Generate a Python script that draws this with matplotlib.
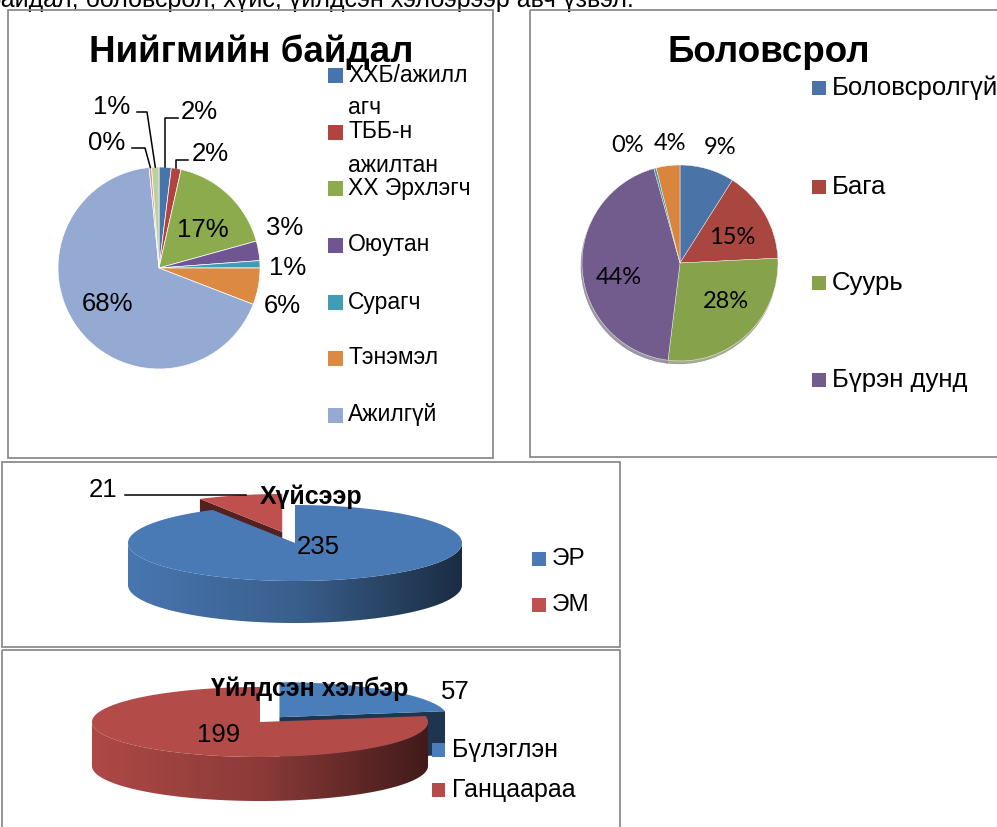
import matplotlib
matplotlib.use('Agg')
import matplotlib.pyplot as plt
from matplotlib.patches import Polygon, Rectangle
from matplotlib.colors import LinearSegmentedColormap, to_rgb
import numpy as np

plt.rcParams['font.family'] = ['Liberation Sans', 'DejaVu Sans']

W, H = 997, 827

# ------------------------------------------------------------------ data
header = 'байдал, боловсрол, хүйс, үйлдсэн хэлбэрээр авч үзвэл.'

social_title = 'Нийгмийн байдал'
social_labels = ['ХХБ/ажилл\nагч', 'ТББ-н\nажилтан', 'ХХ Эрхлэгч', 'Оюутан',
                 'Сурагч', 'Тэнэмэл', 'Ажилгүй', 'Тэтгэвэрт', 'Бусад']
social_counts = [5, 4, 44, 8, 3, 15, 173, 1, 3]
social_colors = ['#4674ad', '#b2433f', '#8bab4c', '#6f5591', '#409db5',
                 '#dc8942', '#94aad2', '#d99491', '#bbd09b']

edu_title = 'Боловсрол'
edu_labels = ['Боловсролгүй', 'Бага', 'Суурь', 'Бүрэн дунд', 'Тусгай дунд', 'Дээд']
edu_counts = [23, 39, 71, 112, 1, 10]
edu_colors = ['#4a74a8', '#a8463f', '#86a34b', '#725b8d', '#3f97ad', '#d9853c']

sex_title = 'Хүйсээр'
sex_labels = ['ЭР', 'ЭМ']
sex_counts = [235, 21]
sex_colors = ['#4a7ab5', '#c0504d']

form_title = 'Үйлдсэн хэлбэр'
form_labels = ['Бүлэглэн', 'Ганцаараа']
form_counts = [57, 199]
form_colors = ['#4a7ebb', '#b34b48']


def pct(counts):
    tot = sum(counts)
    return [f'{round(100 * c / tot):.0f}%' for c in counts]


def pie_axes(cx, cy, r, m=1.1):
    # square axes so that a unit circle has radius r pixels at (cx, cy)
    return fig.add_axes([(cx - m * r) / W, 1 - (cy + m * r) / H, 2 * m * r / W, 2 * m * r / H])


def rim(cx, cy, r, ang):
    t = np.radians(ang)
    return cx + r * np.cos(t), cy - r * np.sin(t)


def pie3d(ax, values, colors, cx, cy, a, b, depth, explode, start=90):
    """Excel-like 3D pie drawn as flat polygons, pixel coords (y down)."""
    frac = np.asarray(values, float) / np.sum(values)
    bounds = start - 360 * np.concatenate([[0], np.cumsum(frac)])
    parts = []
    for i in range(len(values)):
        t2, t1 = bounds[i], bounds[i + 1]
        mid = np.radians((t1 + t2) / 2)
        ox = explode[i] * a * np.cos(mid)
        oy = -explode[i] * b * np.sin(mid)
        parts.append((t1, t2, mid, ox, oy, colors[i]))
    # back slices first
    for t1, t2, mid, ox, oy, col in sorted(parts, key=lambda p: -np.sin(p[2])):
        x0, y0 = cx + ox, cy + oy
        base = np.array(to_rgb(col))
        # radial side faces turned towards the viewer
        for ang, vis in ((t1, np.cos(np.radians(t1)) > 1e-6),
                         (t2, np.cos(np.radians(t2)) < -1e-6)):
            if not vis:
                continue
            px, py = x0 + a * np.cos(np.radians(ang)), y0 - b * np.sin(np.radians(ang))
            ax.add_patch(Polygon([(x0, y0), (px, py), (px, py + depth), (x0, y0 + depth)],
                                 closed=True, fc=base * 0.42, ec='none', zorder=1))
        # outer wall, front half only, shaded left->right
        t = np.radians(np.linspace(t1, t2, 500))
        front = (np.sin(t) <= 0).astype(int)
        idx = np.flatnonzero(np.diff(np.concatenate([[0], front, [0]])))
        for s, e in zip(idx[::2], idx[1::2]):
            tt = t[s:e]
            xs, ys = x0 + a * np.cos(tt), y0 - b * np.sin(tt)
            verts = np.vstack([np.column_stack([xs, ys]),
                               np.column_stack([xs[::-1], ys[::-1] + depth])])
            clip = Polygon(verts, closed=True, transform=ax.transData)
            cmap = LinearSegmentedColormap.from_list('wall', [base * 0.97, base * 0.78, base * 0.36])
            im = ax.imshow(np.linspace(0, 1, 256)[None, :], cmap=cmap, aspect='auto',
                           extent=(cx - a, cx + a, cy + b + depth + 3, cy - b - 3),
                           interpolation='bilinear', zorder=1)
            im.set_clip_path(clip)
        # top face
        top = np.vstack([[x0, y0], np.column_stack([x0 + a * np.cos(t), y0 - b * np.sin(t)])])
        ax.add_patch(Polygon(top, closed=True, fc=col, ec='none', zorder=1))
    return parts


fig = plt.figure(figsize=(W / 100, H / 100), dpi=100)

# ------------------------------------------------------------ chart 1 (2D pie)
c1x, c1y, r1 = 159, 268, 101
ax1 = pie_axes(c1x, c1y, r1)
w1, _ = ax1.pie(social_counts, colors=social_colors, startangle=90, counterclock=False,
                wedgeprops=dict(edgecolor='white', linewidth=0.5))
ax1.set_xlim(-1.1, 1.1)
ax1.set_ylim(-1.1, 1.1)

# ------------------------------------------------------------ chart 2 (2D pie)
c2x, c2y, r2 = 680, 263, 98
ax2 = pie_axes(c2x, c2y, r2)
w2, _ = ax2.pie(edu_counts, colors=edu_colors, startangle=90, counterclock=False,
                wedgeprops=dict(edgecolor='white', linewidth=0.3),
                shadow=dict(ox=-0.008, oy=-0.022, shade=0.45))
ax2.set_xlim(-1.1, 1.1)
ax2.set_ylim(-1.1, 1.1)

# ------------------------------------------------------------ canvas on top
cv = fig.add_axes([0, 0, 1, 1])
cv.axis('off')

border = '#8c8c8c'
for x0, y0, x1, y1 in [(8, 10, 493, 458), (530, 10, 1010, 457),
                       (2, 462, 620, 647), (2, 650, 620, 840)]:
    cv.add_patch(Rectangle((x0, y0), x1 - x0, y1 - y0, fill=False, ec=border, lw=1.3, zorder=5))

cv.text(634, 7, header, ha='right', va='baseline', fontsize=18)

# chart 1 texts
cv.text(251, 52, social_title, ha='center', va='center', fontsize=26.5, fontweight='bold', zorder=4)
lab1 = pct(social_counts)
pos1 = [(181, 112, 'left'), (192, 154, 'left'), (203, 230, 'center'), (285, 228, 'center'),
        (288, 268, 'center'), (282, 306, 'center'), (107, 304, 'center'),
        (125, 143, 'right'), (130, 107, 'right')]
for s, (x, y, ha) in zip(lab1, pos1):
    cv.text(x, y, s, ha=ha, va='center', fontsize=18.5, zorder=6)
# leader lines: elbow (None x -> straight up) and end point
leaders1 = {0: ((None, 118), (178, 118)), 1: ((None, 160), (188, 160)),
            7: ((145, 148), (132, 148)), 8: ((147, 112), (137, 112))}
for i, (elb, end) in leaders1.items():
    px, py = rim(c1x, c1y, r1, (w1[i].theta1 + w1[i].theta2) / 2)
    ex = px if elb[0] is None else elb[0]
    cv.plot([px, ex, end[0]], [py, elb[1], end[1]], color='black', lw=1.1, zorder=6)
leg1_y = [75, 132, 188, 245, 302, 358, 415]
for lab, col, y in zip(social_labels, social_colors, leg1_y):
    cv.add_patch(Rectangle((328, y - 7.5), 15, 15, fc=col, ec='none', zorder=6))
    for k, line in enumerate(lab.split('\n')):
        cv.text(348, y + 33 * k, line, ha='left', va='center', fontsize=16.5, zorder=6)

# chart 2 texts
cv.text(769, 52, edu_title, ha='center', va='center', fontsize=26.5, fontweight='bold')
lab2 = pct(edu_counts)
pos2 = [(720, 147), (732, 237), (726, 302), (619, 278), (628, 145), (670, 143)]
for s, (x, y) in zip(lab2, pos2):
    cv.text(x, y, s, ha='center', va='center', fontsize=17, family=['Lato', 'DejaVu Sans'], zorder=6)
leg2_y = [88, 187, 283, 380]
for lab, col, y in zip(edu_labels, edu_colors, leg2_y):
    cv.add_patch(Rectangle((812, y - 7), 14, 14, fc=col, ec='none', zorder=6))
    cv.text(832, y, lab, ha='left', va='center', fontsize=18.5, zorder=6)

# ------------------------------------------------------------ chart 3 (3D pie)
p3 = pie3d(cv, sex_counts, sex_colors, 295, 543, 167, 38, 42, [0, 0.3])
cv.text(318, 547, str(sex_counts[0]), ha='center', va='center', fontsize=18.5, zorder=6)
t1, t2, mid, ox, oy, _ = p3[1]
lx = 295 + ox + 167 * np.cos(mid)
cv.plot([125, lx + 6], [495, 495], color='black', lw=1.1, zorder=6)
cv.text(103, 490, str(sex_counts[1]), ha='center', va='center', fontsize=18.5, zorder=6)
cv.text(311, 497, sex_title, ha='center', va='center', fontsize=18, fontweight='bold', zorder=6)
for lab, col, y in zip(sex_labels, sex_colors, [559, 605]):
    cv.add_patch(Rectangle((532, y - 7), 14, 14, fc=col, ec='none', zorder=6))
    cv.text(552, y, lab, ha='left', va='center', fontsize=17.5, zorder=6)

# ------------------------------------------------------------ chart 4 (3D pie)
pie3d(cv, form_counts, form_colors, 260, 722, 168, 35, 44, [0.18, 0])
cv.text(219, 735, str(form_counts[1]), ha='center', va='center', fontsize=18.5, zorder=6)
cv.text(455, 692, str(form_counts[0]), ha='center', va='center', fontsize=18.5, zorder=6)
cv.text(310, 689, form_title, ha='center', va='center', fontsize=18, fontweight='bold', zorder=6)
for lab, col, y in zip(form_labels, form_colors, [750, 790]):
    cv.add_patch(Rectangle((432, y - 7), 13, 14, fc=col, ec='none', zorder=6))
    cv.text(452, y, lab, ha='left', va='center', fontsize=18, zorder=6)

cv.set_xlim(0, W)
cv.set_ylim(H, 0)

fig.savefig('out.png', dpi=100)
